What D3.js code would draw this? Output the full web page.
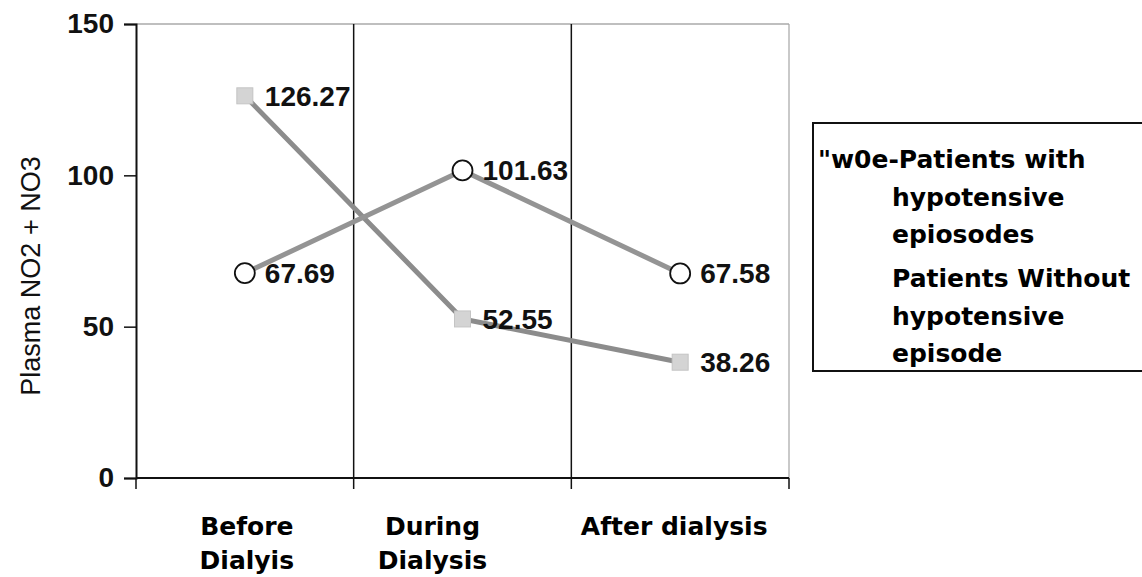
<!DOCTYPE html>
<html>
<head>
<meta charset="utf-8">
<script src="https://cdn.jsdelivr.net/npm/d3@7/dist/d3.min.js"></script>
<style>
  html, body { margin: 0; padding: 0; background: #fff; }
  svg { display: block; }
</style>
</head>
<body>
<svg id="chart" width="1142" height="577"></svg>
<script>
// ---- data ----
const categories = ["Before Dialyis", "During Dialysis", "After dialysis"];
const categoryLines = [["Before", "Dialyis"], ["During", "Dialysis"], ["After dialysis"]];
const withHypotension = [67.69, 101.63, 67.58];
const withoutHypotension = [126.27, 52.55, 38.26];
const yTicks = [0, 50, 100, 150];
const yTitle = "Plasma NO2 + NO3";
const legendLines = [
  ["\"w0e-Patients with", "hypotensive", "epiosodes"],
  ["Patients Without", "hypotensive", "episode"]
];

(function () {
// ---- layout ----
const svg = d3.select("#chart");
const pLeft = 136, pRight = 789, pTop = 24, pBottom = 478;

const x = d3.scaleBand().domain(categories).range([pLeft, pRight]).padding(0);
const y = d3.scaleLinear().domain([0, 150]).range([pBottom, pTop]);
const cx = d => x(d) + x.bandwidth() / 2;

// frame top / right (light grey)
svg.append("line").attr("x1", pLeft).attr("x2", pRight).attr("y1", y(150)).attr("y2", y(150))
  .attr("stroke", "#aaa").attr("stroke-width", 1.5);
svg.append("line").attr("x1", pRight).attr("x2", pRight).attr("y1", y(150)).attr("y2", y(0))
  .attr("stroke", "#a5a5a5").attr("stroke-width", 1.2);

// vertical gridlines at category boundaries
svg.append("g").selectAll("line").data(categories.slice(1)).join("line")
  .attr("x1", d => x(d)).attr("x2", d => x(d))
  .attr("y1", y(150)).attr("y2", y(0))
  .attr("stroke", "#111").attr("stroke-width", 1.5);

// y axis
const yAxis = svg.append("g").attr("transform", `translate(${pLeft},0)`)
  .call(d3.axisLeft(y).tickValues(yTicks).tickSize(12).tickPadding(10).tickFormat(d3.format("d")));
yAxis.select(".domain").attr("stroke", "#111").attr("stroke-width", 2);
yAxis.selectAll(".tick line").attr("stroke", "#111").attr("stroke-width", 1.5);
yAxis.selectAll(".tick text")
  .attr("font-family", "'Liberation Sans', Arial, sans-serif")
  .attr("font-size", 28).attr("font-weight", "bold").attr("fill", "#111");

// x axis (baseline + boundary ticks)
const xAxisG = svg.append("g");
xAxisG.append("line").attr("x1", pLeft).attr("x2", pRight).attr("y1", y(0)).attr("y2", y(0))
  .attr("stroke", "#111").attr("stroke-width", 2);
const boundaries = categories.map(d => x(d)).concat([x(categories[categories.length - 1]) + x.bandwidth()]);
xAxisG.selectAll("line.tk").data(boundaries).join("line").attr("class", "tk")
  .attr("x1", d => d).attr("x2", d => d).attr("y1", y(0)).attr("y2", y(0) + 11)
  .attr("stroke", "#111").attr("stroke-width", 1.5);

// category labels
const labelShift = [2, -30, -6];
const catG = svg.append("g");
categories.forEach((c, i) => {
  const lx = cx(c) + labelShift[i];
  const t = catG.append("text")
    .attr("x", lx)
    .attr("y", 535)
    .attr("text-anchor", "middle")
    .attr("font-family", "'DejaVu Sans', Verdana, sans-serif")
    .attr("font-weight", "bold").attr("font-size", 25).attr("fill", "#000");
  categoryLines[i].forEach((ln, j) => {
    t.append("tspan").attr("x", lx).attr("dy", j === 0 ? 0 : 34).text(ln);
  });
});

// y title
svg.append("text")
  .attr("transform", `translate(40,${(y(0) + y(150)) / 2 + 25}) rotate(-90)`)
  .attr("text-anchor", "middle")
  .attr("font-family", "'Liberation Sans', Arial, sans-serif")
  .attr("font-size", 27).attr("fill", "#111")
  .text(yTitle);

// lines
const line = d3.line().x((d, i) => cx(categories[i])).y(d => y(d));
svg.append("path").datum(withoutHypotension).attr("d", line)
  .attr("fill", "none").attr("stroke", "#8c8c8c").attr("stroke-width", 5);
svg.append("path").datum(withHypotension).attr("d", line)
  .attr("fill", "none").attr("stroke", "#949494").attr("stroke-width", 5);

// markers: squares (without)
svg.append("g").selectAll("rect").data(withoutHypotension).join("rect")
  .attr("x", (d, i) => cx(categories[i]) - 8).attr("y", d => y(d) - 8)
  .attr("width", 16).attr("height", 16)
  .attr("fill", "#d4d4d4").attr("stroke", "#c4c4c4").attr("stroke-width", 1);

// markers: circles (with)
svg.append("g").selectAll("circle").data(withHypotension).join("circle")
  .attr("cx", (d, i) => cx(categories[i])).attr("cy", d => y(d))
  .attr("r", 10).attr("fill", "#fff").attr("stroke", "#111").attr("stroke-width", 1.8);

// data labels
const labelFont = "'Liberation Sans', Arial, sans-serif";
[withHypotension, withoutHypotension].forEach(series => {
  svg.append("g").selectAll("text").data(series).join("text")
    .attr("x", (d, i) => cx(categories[i]) + 20)
    .attr("y", d => y(d) + 10)
    .attr("font-family", labelFont).attr("font-size", 28).attr("font-weight", "bold")
    .attr("fill", "#111")
    .text(d => d.toFixed(2));
});

// legend
const lg = svg.append("g");
lg.append("rect").attr("x", 813).attr("y", 123).attr("width", 340).attr("height", 248)
  .attr("fill", "#fff").attr("stroke", "#111").attr("stroke-width", 2);
const legendFont = "'DejaVu Sans', Verdana, sans-serif";
const legendY = [[168, 206, 243], [287, 325, 362]];
legendLines.forEach((lines, s) => {
  lines.forEach((ln, j) => {
    lg.append("text")
      .attr("x", (s === 0 && j === 0) ? 818 : 892)
      .attr("y", legendY[s][j])
      .attr("font-family", legendFont).attr("font-weight", "bold")
      .attr("font-size", 25).attr("fill", "#000")
      .text(ln);
  });
});
})();
</script>
</body>
</html>
